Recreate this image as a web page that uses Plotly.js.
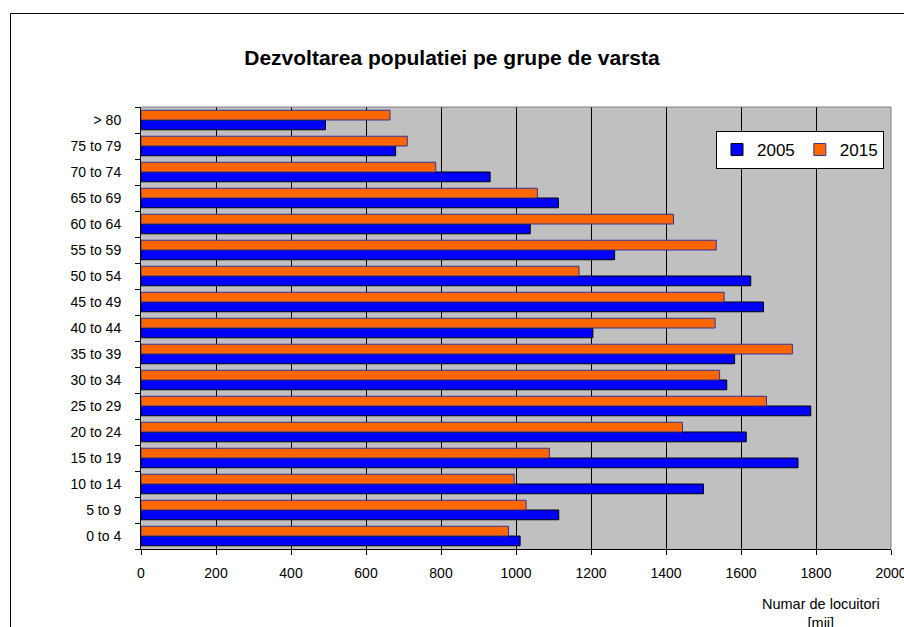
<!DOCTYPE html>
<html>
<head>
<meta charset="utf-8">
<script src="https://cdn.plot.ly/plotly-3.0.1.min.js"></script>
<style>
  html, body { margin: 0; padding: 0; background: #fff; }
  #chart { width: 904px; height: 627px; }
</style>
</head>
<body>
<div id="chart"></div>
<script>
const ageGroups = ['0 to 4', '5 to 9', '10 to 14', '15 to 19', '20 to 24', '25 to 29',
  '30 to 34', '35 to 39', '40 to 44', '45 to 49', '50 to 54', '55 to 59',
  '60 to 64', '65 to 69', '70 to 74', '75 to 79', '> 80'];
const pop2005 = [1011, 1114, 1500, 1752, 1614, 1786, 1562, 1583, 1205, 1660, 1626,
  1263, 1038, 1113, 931, 679, 492];
const pop2015 = [980, 1027, 995, 1089, 1444, 1668, 1543, 1737, 1531, 1555, 1168,
  1534, 1420, 1057, 786, 710, 664];
const xTicks = [0, 200, 400, 600, 800, 1000, 1200, 1400, 1600, 1800, 2000];

const font = 'Liberation Sans, Arial, sans-serif';

const data = [
  {
    type: 'bar',
    orientation: 'h',
    name: '2005',
    y: ageGroups,
    x: pop2005,
    marker: { color: '#0000FF', line: { color: '#000000', width: 1 } },
    hoverinfo: 'x+y+name'
  },
  {
    type: 'bar',
    orientation: 'h',
    name: '2015',
    y: ageGroups,
    x: pop2015,
    marker: { color: '#FF6600', line: { color: '#333399', width: 1 } },
    hoverinfo: 'x+y+name'
  }
];

// plot area is 141..891 x 107..549 px; helpers turn pixels into paper coords
const px = v => (v - 141) / 750;
const py = v => (549 - v) / 442;

const layout = {
  width: 904,
  height: 627,
  margin: { l: 141, r: 13, t: 107, b: 78, autoexpand: false },
  paper_bgcolor: '#FFFFFF',
  plot_bgcolor: '#C0C0C0',
  font: { family: font, size: 14, color: '#000' },
  barmode: 'group',
  bargap: 0.25,
  bargroupgap: 0,
  title: {
    text: '<b>Dezvoltarea populatiei pe grupe de varsta</b>',
    font: { family: font, size: 21, color: '#000' },
    x: 0.5, xanchor: 'center',
    y: 1 - 58 / 627, yanchor: 'middle'
  },
  xaxis: {
    range: [0, 2000],
    tickmode: 'array',
    tickvals: xTicks,
    ticktext: xTicks.map(String),
    showgrid: true,
    gridcolor: '#000000',
    gridwidth: 1,
    zeroline: false,
    showline: true,
    linecolor: '#000000',
    linewidth: 1,
    ticks: 'outside',
    ticklen: 5,
    tickcolor: '#000000',
    ticklabelstandoff: 6,
    ticklabeloverflow: 'allow',
    tickfont: { family: font, size: 14 },
    fixedrange: true
  },
  yaxis: {
    type: 'category',
    categoryorder: 'array',
    categoryarray: ageGroups,
    tickson: 'boundaries',
    showgrid: false,
    zeroline: false,
    showline: true,
    linecolor: '#000000',
    linewidth: 1,
    ticks: 'outside',
    ticklen: 5,
    tickcolor: '#000000',
    ticklabelstandoff: 16,
    tickfont: { family: font, size: 14 },
    fixedrange: true
  },
  legend: {
    orientation: 'h',
    x: px(884), xanchor: 'right',
    y: py(131), yanchor: 'top',
    bgcolor: '#FFFFFF',
    bordercolor: '#000000',
    borderwidth: 1,
    font: { family: font, size: 17, color: '#000' },
    traceorder: 'normal'
  },
  annotations: [
    {
      text: 'Numar de locuitori<br>[mii]',
      xref: 'paper', yref: 'paper',
      x: px(821), xanchor: 'center',
      y: py(594), yanchor: 'top',
      showarrow: false,
      align: 'center',
      font: { family: font, size: 14.5, color: '#000' }
    }
  ],
  shapes: [
    // plot area top and right edges
    { type: 'line', xref: 'paper', yref: 'paper', x0: 0, x1: 1, y0: 1, y1: 1,
      line: { color: '#808080', width: 1 } },
    { type: 'line', xref: 'paper', yref: 'paper', x0: 1, x1: 1, y0: 0, y1: 1,
      line: { color: '#808080', width: 1 } },
    // outer chart frame (left and top)
    { type: 'line', xref: 'paper', yref: 'paper', x0: px(10.5), x1: px(10.5), y0: py(13.5), y1: py(640),
      line: { color: '#000000', width: 1 } },
    { type: 'line', xref: 'paper', yref: 'paper', x0: px(10.5), x1: px(910), y0: py(13.5), y1: py(13.5),
      line: { color: '#000000', width: 1 } }
  ],
  hovermode: 'closest'
};

Plotly.newPlot('chart', data, layout, { displayModeBar: false, responsive: false });
</script>
</body>
</html>
